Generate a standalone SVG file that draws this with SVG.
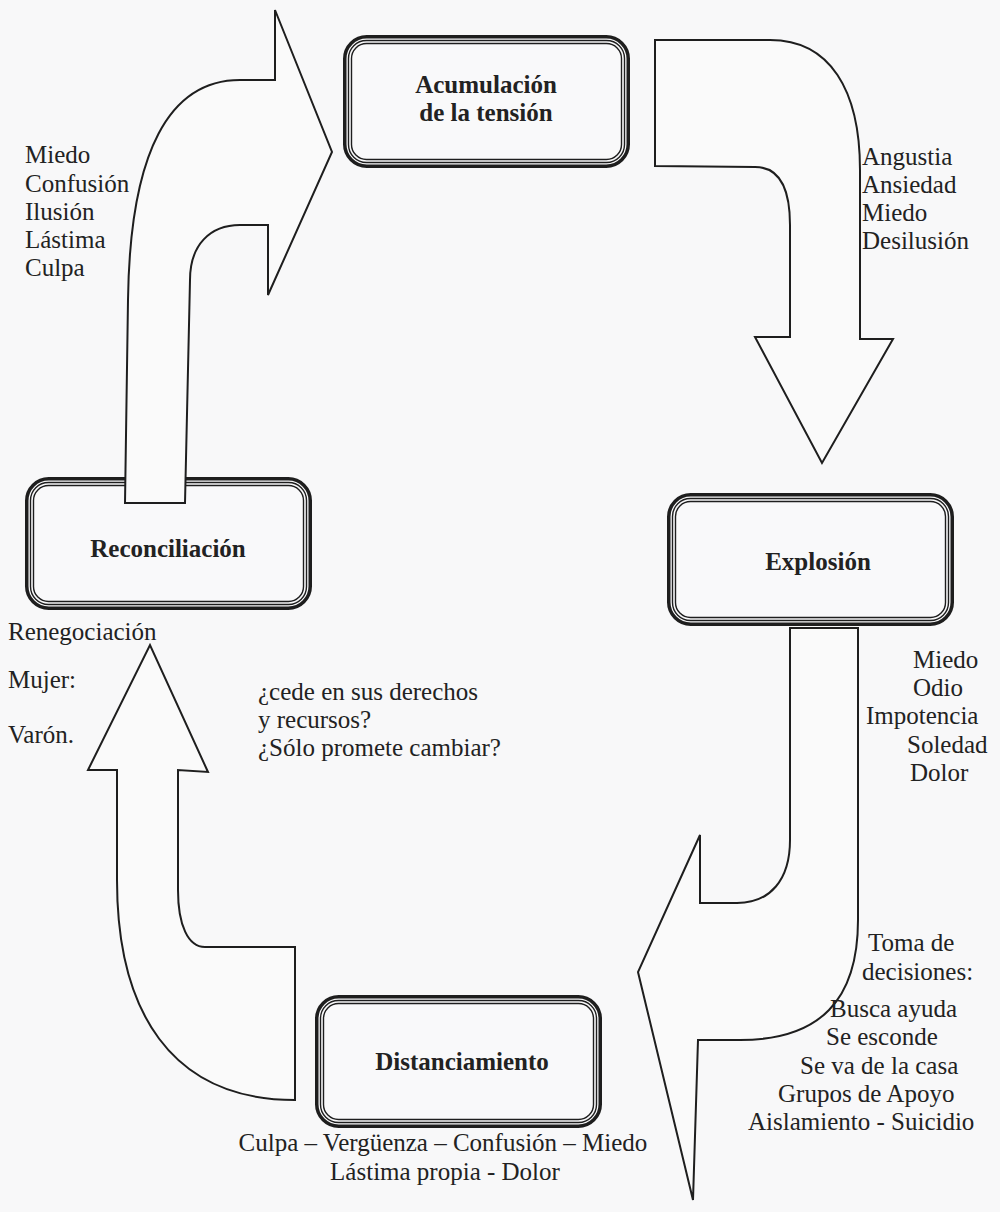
<svg xmlns="http://www.w3.org/2000/svg" width="1000" height="1212" viewBox="0 0 1000 1212">
<style>
.bg{fill:#f8f8f9}
.f1{fill:#f9f9fa;stroke:#1e1e1e;stroke-width:3.5}
.f2{fill:none;stroke:#1e1e1e;stroke-width:1.4}
.lbl{font-family:"Liberation Serif","Times New Roman",serif;font-size:25px;font-weight:bold;fill:#222;text-anchor:middle}
.t{font-family:"Liberation Serif","Times New Roman",serif;font-size:25px;fill:#222}
.arrow{fill:#fafafa;stroke:#1e1e1e;stroke-width:2;stroke-linejoin:miter}
</style>
<defs>
<g id="frame">
<rect class="f1" x="1.75" y="1.75" width="283.5" height="129.5" rx="22"/>
<rect class="f2" x="5.5" y="5.5" width="276" height="122" rx="18"/>
<rect class="f2" x="8.5" y="8.5" width="270" height="116" rx="15"/>
</g>
</defs>
<rect class="bg" x="0" y="0" width="1000" height="1212"/>

<g id="node-acumulacion">
<use href="#frame" x="343" y="35"/>
<text class="lbl" x="486" y="93">Acumulación</text>
<text class="lbl" x="486" y="121">de la tensión</text>
</g>
<g id="node-reconciliacion">
<use href="#frame" x="25" y="477"/>
<text class="lbl" x="168" y="557">Reconciliación</text>
</g>
<g id="node-explosion">
<use href="#frame" x="667" y="493"/>
<text class="lbl" x="818" y="570">Explosión</text>
</g>
<g id="node-distanciamiento">
<use href="#frame" x="315" y="995"/>
<text class="lbl" x="462" y="1070">Distanciamiento</text>
</g>

<g id="connectors">
<path id="arrow-reconciliacion-acumulacion" class="arrow" d="M125 503 L128 300 C130 150 170 80 240 80 L275 80 L275 10 L332 152 L268 295 L268 225 L240 225 C210 225 190 245 190 280 L185 503 Z"/>
<path id="arrow-acumulacion-explosion" class="arrow" d="M655 40 L770 40 C830 40 860 90 860 170 L860 339 L893 339 L822 463 L755 337 L790 337 L790 225 C790 190 780 167 755 167 L655 166 Z"/>
<path id="arrow-explosion-distanciamiento" class="arrow" d="M790 628 L858 628 L858 920 C858 1000 820 1040 740 1040 L698 1040 L693 1200 L638 972 L700 835 L700 903 L737 903 C770 903 790 880 790 840 Z"/>
<path id="arrow-distanciamiento-reconciliacion" class="arrow" d="M295 1100 L295 947 L205 947 C188 947 178 925 178 890 L178 770 L208 772 L150 645 L88 770 L117 770 L117 880 C117 1010 170 1100 295 1100 Z"/>
</g>

<g id="labels">
<text class="t" x="25" y="163">Miedo</text>
<text class="t" x="25" y="192">Confusión</text>
<text class="t" x="25" y="220">Ilusión</text>
<text class="t" x="25" y="248">Lástima</text>
<text class="t" x="25" y="276">Culpa</text>

<text class="t" x="862" y="165">Angustia</text>
<text class="t" x="862" y="193">Ansiedad</text>
<text class="t" x="862" y="221">Miedo</text>
<text class="t" x="862" y="249">Desilusión</text>

<text class="t" x="8" y="640">Renegociación</text>
<text class="t" x="8" y="688">Mujer:</text>
<text class="t" x="8" y="743">Varón.</text>
<text class="t" x="258" y="700">¿cede en sus derechos</text>
<text class="t" x="258" y="728">y recursos?</text>
<text class="t" x="258" y="756">¿Sólo promete cambiar?</text>

<text class="t" x="913" y="668">Miedo</text>
<text class="t" x="913" y="696">Odio</text>
<text class="t" x="866" y="724">Impotencia</text>
<text class="t" x="907" y="753">Soledad</text>
<text class="t" x="910" y="781">Dolor</text>

<text class="t" x="868" y="951">Toma de</text>
<text class="t" x="862" y="980">decisiones:</text>
<text class="t" x="830" y="1017">Busca ayuda</text>
<text class="t" x="826" y="1045">Se esconde</text>
<text class="t" x="800" y="1074">Se va de la casa</text>
<text class="t" x="778" y="1102">Grupos de Apoyo</text>
<text class="t" x="748" y="1130">Aislamiento - Suicidio</text>

<text class="t" x="443" y="1151" text-anchor="middle">Culpa – Vergüenza – Confusión – Miedo</text>
<text class="t" x="445" y="1180" text-anchor="middle">Lástima propia - Dolor</text>
</g>
</svg>
